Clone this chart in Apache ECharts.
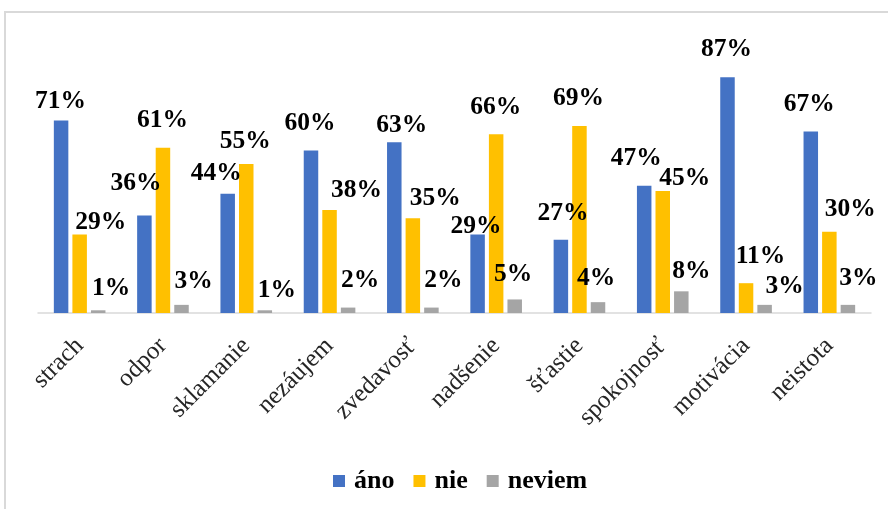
<!DOCTYPE html>
<html>
<head>
<meta charset="utf-8">
<script src="https://cdn.jsdelivr.net/npm/echarts@6/dist/echarts.min.js"></script>
<style>
  html, body { margin: 0; padding: 0; background: #fff; }
  #chart { width: 888px; height: 509px; }
</style>
</head>
<body>
<div id="chart"></div>
<script>
var categories = ['strach', 'odpor', 'sklamanie', 'nezáujem', 'zvedavosť', 'nadšenie', 'šťastie', 'spokojnosť', 'motivácia', 'neistota'];
var seriesNames = ['áno', 'nie', 'neviem'];
var ano = [71, 36, 44, 60, 63, 29, 27, 47, 87, 67];
var nie = [29, 61, 55, 38, 35, 66, 69, 45, 11, 30];
var neviem = [1, 3, 1, 2, 2, 5, 4, 8, 3, 3];
var colorList = ['#4472c4', '#ffc000', '#a5a5a5'];

// posunutie popiskov (dx od stredu stlpca, dy od vrchu stlpca)
var labelShift = [
    [[-0.5, -10.4], [-8.5, -23.3], [-11.5, -11.6], [-1, -18.5], [7.5, -8.1], [-1.5, 0.7], [2, -17.7], [-8, -18.5], [-1, -19], [-1.5, -18.2]],
    [[21, -2.8], [-0.5, -18.5], [-1, -13.8], [27, -10.9], [22.5, -11], [-0.5, -17.9], [-1, -18.8], [22, -3.9], [14.5, -18.2], [21, -13.6]],
    [[13, -13.3], [12, -14.9], [12, -11.3], [12, -18.6], [12, -18.6], [-1.5, -16.4], [-2, -15.1], [10, -11.3], [20, -9.9], [10.5, -17.9]]
];

var barW = 14.5;
var serif = '"Liberation Serif", "Times New Roman", serif';

function buildData(values, k) {
    var arr = [];
    for (var i = 0; i < values.length; i++) {
        arr.push({
            value: values[i],
            label: { position: [barW / 2 + labelShift[k][i][0], labelShift[k][i][1] + 4.2] }
        });
    }
    return arr;
}

var chart = echarts.init(document.getElementById('chart'));
var seriesData = [];
var allValues = [ano, nie, neviem];
for (var k = 0; k < 3; k++) {
    seriesData.push({
        name: seriesNames[k],
        type: 'bar',
        barWidth: barW,
        barGap: '28%',
        itemStyle: { color: colorList[k] },
        label: {
            show: true,
            align: 'center',
            verticalAlign: 'bottom',
            formatter: '{c}%',
            fontFamily: serif,
            fontWeight: 'bold',
            fontSize: 25.5,
            color: '#000'
        },
        data: buildData(allValues[k], k)
    });
}

var option = {
    animation: false,
    backgroundColor: '#fff',
    graphic: [{
        type: 'rect',
        shape: { x: 5, y: 12, width: 1000, height: 1000 },
        style: { fill: 'none', stroke: '#d9d9d9', lineWidth: 2 }
    }],
    grid: { left: 38, right: 17, top: 42, bottom: 196 },
    legend: {
        data: seriesNames,
        left: 328,
        top: 463,
        icon: 'rect',
        itemWidth: 12,
        itemHeight: 12,
        itemGap: 19,
        textStyle: {
            fontFamily: serif,
            fontWeight: 'bold',
            fontSize: 26,
            color: '#000',
            padding: [0, 0, 0, 4]
        }
    },
    xAxis: {
        type: 'category',
        data: categories,
        axisLine: { lineStyle: { color: '#d9d9d9', width: 1.5 } },
        axisTick: { show: false },
        axisLabel: {
            rotate: 45,
            interval: 0,
            margin: 29,
            fontFamily: serif,
            fontSize: 25,
            color: '#262626',
            padding: [36, 0, 0, 0]
        }
    },
    yAxis: {
        type: 'value',
        min: 0,
        max: 100,
        show: false,
        splitLine: { show: false }
    },
    series: seriesData
};
chart.setOption(option);
window.onresize = chart.resize;
</script>
</body>
</html>
